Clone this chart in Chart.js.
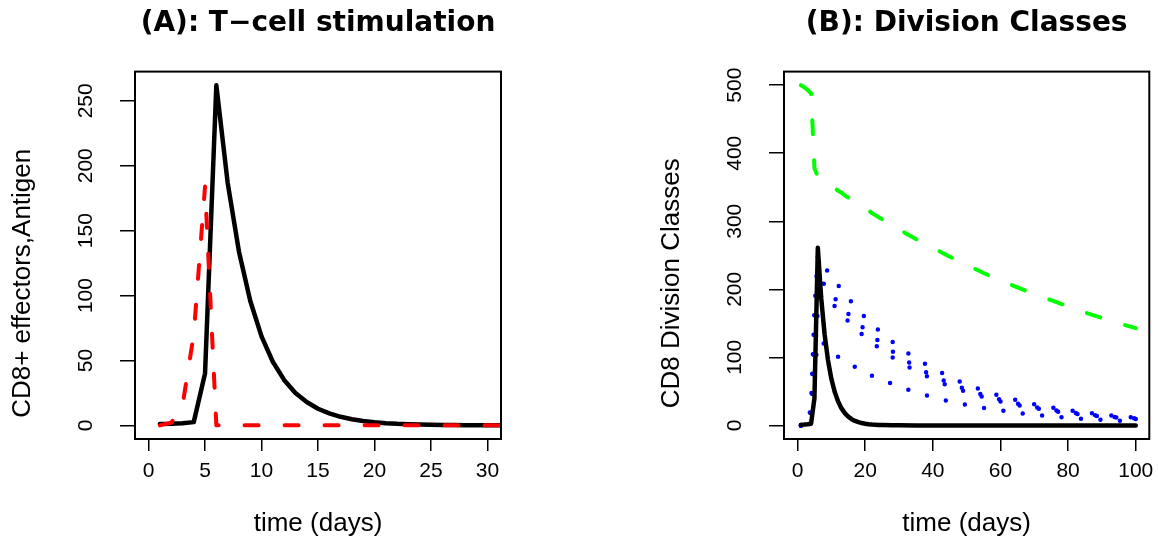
<!DOCTYPE html>
<html>
<head>
<meta charset="utf-8">
<script src="https://cdn.jsdelivr.net/npm/chart.js@4"></script>
<style>
  html, body { margin: 0; padding: 0; background: #fff; }
  #wrap { position: relative; width: 1158px; height: 537px; }
  canvas { position: absolute; top: 0; }
</style>
</head>
<body>
<div id="wrap">
  <canvas id="panelA" width="579" height="537" style="left:0"></canvas>
  <canvas id="panelB" width="579" height="537" style="left:579px"></canvas>
</div>
<script>
// panel A: effectors and antigen, days 1..32
const daysA = [1, 2, 3, 4, 5, 6, 7, 8, 9, 10, 11, 12, 13, 14, 15, 16, 17, 18, 19, 20, 21, 22, 23, 24, 25, 26, 27, 28, 29, 30, 31, 32];
const effectorsA = [1, 1.2, 1.6, 2.5, 40, 262, 187, 134, 96, 68.5, 49, 35, 25, 18, 12.8, 9.2, 6.6, 4.7, 3.4, 2.4, 1.7, 1.2, 0.9, 0.6, 0.45, 0.3, 0.23, 0.16, 0.12, 0.08, 0.06, 0.04];
const antigenA = [0, 2, 15, 70, 184, 0, 0, 0, 0, 0, 0, 0, 0, 0, 0, 0, 0, 0, 0, 0, 0, 0, 0, 0, 0, 0, 0, 0, 0, 0, 0, 0];
const xTicksA = [0, 5, 10, 15, 20, 25, 30];
const yTicksA = [0, 50, 100, 150, 200, 250];

// panel B: division classes, days 1..100
const daysB = [1, 2, 3, 4, 5, 6, 7, 8, 9, 10, 11, 12, 13, 14, 15, 16, 17, 18, 19, 20, 21, 22, 23, 24, 25, 28, 30, 35, 40, 45, 50, 55, 60, 65, 70, 75, 80, 85, 90, 95, 100];
const effectorsB = [1, 1.2, 1.6, 2.5, 40, 261, 187, 134, 96, 68.5, 49, 35, 25, 18, 12.8, 9.2, 6.6, 4.7, 3.4, 2.4, 1.7, 1.2, 0.9, 0.6, 0.45, 0.16, 0.08, 0.02, 0, 0, 0, 0, 0, 0, 0, 0, 0, 0, 0, 0, 0];
const naiveB = [500, 497, 493, 488, 378, 366, 362, 359, 356, 352, 349, 345, 342, 338, 335, 332, 328, 325, 322, 319, 316, 312, 309, 306, 303, 294, 288, 274, 261, 248, 236, 224, 213, 203, 193, 184, 175, 166, 158, 150, 143];
const div1B = [0, 0, 0.5, 30, 170, 250, 245, 233, 226, 219, 212, 206, 199, 193, 187, 181, 175, 169, 164, 159, 154, 149, 144, 140, 135, 123, 115, 98, 84, 71, 60, 51, 43, 37, 31, 26.5, 22.5, 19, 16.2, 13.5, 11.5];
const div2B = [0, 0, 0, 20, 120, 200, 212, 207, 199, 193, 187, 181, 175, 169, 164, 159, 154, 150, 145, 141, 136, 132, 128, 124, 120, 109, 102, 86, 73, 62, 52.8, 44.6, 37.8, 32, 27, 23, 19.5, 16.5, 14, 12, 10.2];
const div3B = [0, 0, 0, 15, 100, 170, 190, 192, 187, 182, 175, 169, 163, 158, 153, 148, 143, 138, 134, 130, 126, 122, 118, 114, 110, 100, 94, 80, 68, 57.5, 49, 41.5, 35, 30, 25.5, 21.5, 18.2, 15.5, 13.2, 11.2, 9.5];
const div4B = [0, 0, 1, 10, 80, 122, 124, 119, 114, 109, 105, 101, 98, 95, 92, 89, 86, 83, 81, 78, 76, 73, 71, 69, 67, 61, 57, 48.4, 41.5, 35, 30, 25.5, 22, 18.5, 15.6, 13.2, 11.2, 9.5, 8.2, 7, 5.8];
const xTicksB = [0, 20, 40, 60, 80, 100];
const yTicksB = [0, 100, 200, 300, 400, 500];

Chart.defaults.font.family = "'Liberation Sans', Arial, Helvetica, sans-serif";
Chart.defaults.color = '#000';

function pts(xs, ys) {
    return xs.map((x, i) => ({x: x, y: ys[i]}));
}

// R style box round the plot region
const plotBox = {
    id: 'plotBox',
    afterDraw(chart) {
        const {ctx, chartArea: a} = chart;
        ctx.save();
        ctx.strokeStyle = '#000';
        ctx.lineWidth = 2;
        ctx.strokeRect(a.left, a.top, a.right - a.left, a.bottom - a.top);
        ctx.restore();
    }
};

// y label sits a bit below the middle of the box in the original
function yLabel(text) {
    return {
        id: 'yLabel',
        afterDraw(chart) {
            const {ctx, chartArea: a} = chart;
            ctx.save();
            ctx.translate(a.left - 112, (a.top + a.bottom) / 2 + 28);
            ctx.rotate(-Math.PI / 2);
            ctx.font = "26px 'Liberation Sans', Arial, sans-serif";
            ctx.fillStyle = '#000';
            ctx.textAlign = 'center';
            ctx.textBaseline = 'middle';
            ctx.fillText(text, 0, 0);
            ctx.restore();
        }
    };
}

// keep the plot box where the layout puts it, labels may hang over
function noEdgePadding(s) {
    s.paddingLeft = 0;
    s.paddingRight = 0;
    s.paddingTop = 0;
    s.paddingBottom = 0;
}

function panelOptions(p) {
    return {
        responsive: false,
        animation: false,
        events: [],
        layout: {padding: {left: p.padLeft, right: p.padRight, top: 0, bottom: 0}},
        elements: {
            point: {radius: 0},
            line: {tension: 0, fill: false, borderJoinStyle: 'round'}
        },
        plugins: {
            legend: {display: false},
            tooltip: {enabled: false},
            title: {
                display: true,
                text: p.title,
                fullSize: false,
                color: '#000',
                font: {family: "'DejaVu Sans', 'Liberation Sans', sans-serif", size: 28, weight: 'bold'},
                padding: {top: 7, bottom: 31}
            }
        },
        scales: {
            x: {
                type: 'linear',
                min: p.xMin,
                max: p.xMax,
                afterBuildTicks: s => { s.ticks = p.xTicks.map(v => ({value: v})); },
                afterFit: s => { s.height = 98; noEdgePadding(s); },
                border: {display: false},
                grid: {drawOnChartArea: false, tickLength: 12, color: '#000', lineWidth: 1.5},
                ticks: {font: {size: 21}, color: '#000', padding: 8, maxRotation: 0},
                title: {display: true, text: 'time (days)', color: '#000', font: {size: 26}, padding: {top: 0, bottom: -2}}
            },
            y: {
                type: 'linear',
                min: p.yMin,
                max: p.yMax,
                afterBuildTicks: s => { s.ticks = p.yTicks.map(v => ({value: v})); },
                afterFit: s => { s.width = 135; noEdgePadding(s); },
                border: {display: false},
                grid: {drawOnChartArea: false, tickLength: 15, color: '#000', lineWidth: 1.5},
                ticks: {font: {size: 21}, color: '#000', padding: 16, minRotation: 90, maxRotation: 90, crossAlign: 'center'},
                title: {display: false}
            }
        }
    };
}

new Chart(document.getElementById('panelA'), {
    type: 'line',
    data: {
        datasets: [
            {data: pts(daysA, antigenA), borderColor: '#ff0000', borderWidth: 4, borderDash: [14, 26], borderCapStyle: 'round', clip: 0},
            {data: pts(daysA, effectorsA), borderColor: '#000000', borderWidth: 4.5, borderCapStyle: 'round', clip: 0}
        ]
    },
    options: panelOptions({
        title: '(A): T\u2212cell stimulation',
        padLeft: 0, padRight: 78,
        xMin: -1.2, xMax: 31.2, xTicks: xTicksA,
        yMin: -10.5, yMax: 272.5, yTicks: yTicksA
    }),
    plugins: [plotBox, yLabel('CD8+ effectors,Antigen')]
});

const dotted = {borderColor: '#0000ff', borderWidth: 4.5, borderDash: [0, 19.5], borderCapStyle: 'round', clip: 0};

new Chart(document.getElementById('panelB'), {
    type: 'line',
    data: {
        datasets: [
            {data: pts(daysB, effectorsB), borderColor: '#000000', borderWidth: 4.5, borderCapStyle: 'round', clip: 0},
            Object.assign({data: pts(daysB, div1B)}, dotted),
            Object.assign({data: pts(daysB, div2B)}, dotted),
            Object.assign({data: pts(daysB, div3B)}, dotted),
            Object.assign({data: pts(daysB, div4B)}, dotted),
            {data: pts(daysB, naiveB), borderColor: '#00ff00', borderWidth: 4, borderDash: [14, 26], borderCapStyle: 'round', clip: 0}
        ]
    },
    options: panelOptions({
        title: '(B): Division Classes',
        padLeft: 70, padRight: 8.7,
        xMin: -4, xMax: 104, xTicks: xTicksB,
        yMin: -20, yMax: 520, yTicks: yTicksB
    }),
    plugins: [plotBox, yLabel('CD8 Division Classes')]
});
</script>
</body>
</html>
